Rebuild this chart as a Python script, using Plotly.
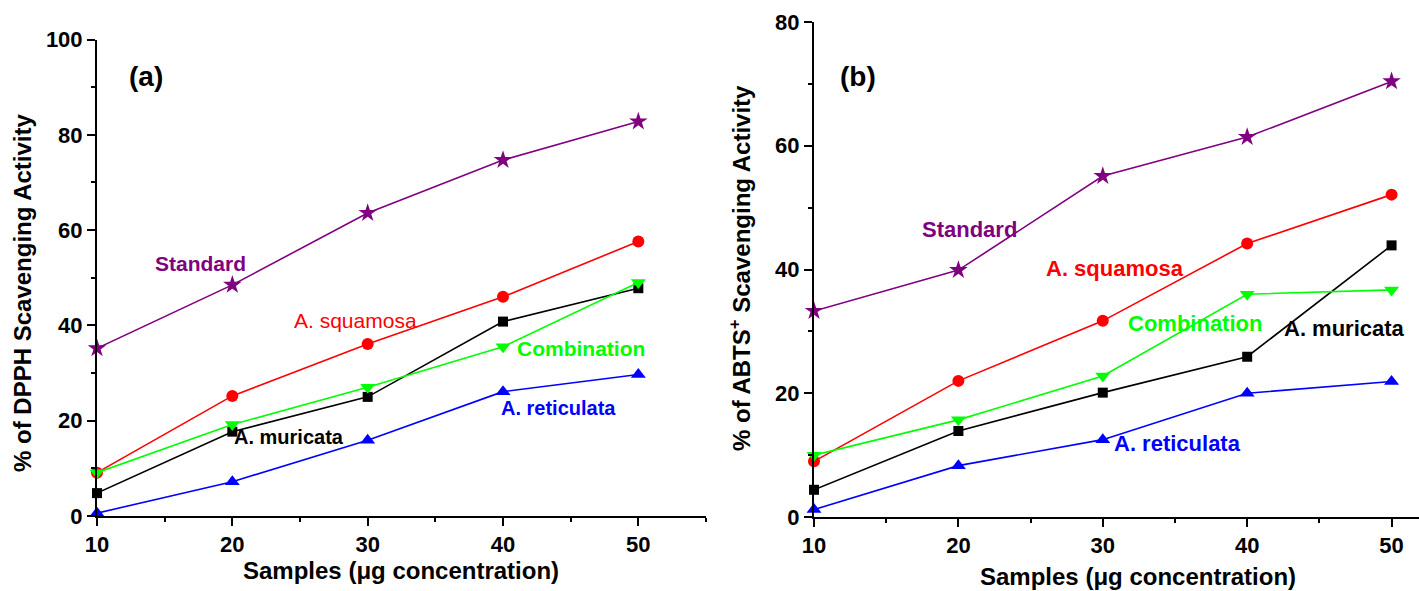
import plotly.graph_objects as go

W, H = 1419, 591

# ---- data ----
conc = [10, 20, 30, 40, 50]

# (a) DPPH
dpph_standard = [35.2, 48.5, 63.6, 74.7, 82.8]
dpph_squamosa = [9.1, 25.2, 36.1, 46.0, 57.6]
dpph_muricata = [4.8, 17.7, 25.0, 40.8, 47.8]
dpph_combination = [9.1, 19.2, 27.0, 35.5, 49.0]
dpph_reticulata = [0.6, 7.2, 15.9, 26.1, 29.7]

# (b) ABTS+
abts_standard = [33.3, 39.9, 55.1, 61.4, 70.4]
abts_squamosa = [9.0, 22.0, 31.7, 44.2, 52.1]
abts_muricata = [4.4, 13.9, 20.1, 25.9, 43.9]
abts_combination = [10.0, 15.7, 22.8, 36.0, 36.7]
abts_reticulata = [1.2, 8.3, 12.5, 20.0, 21.9]

x_tickvals = [10, 20, 30, 40, 50]
y1_tickvals = [0, 20, 40, 60, 80, 100]
y2_tickvals = [0, 20, 40, 60, 80]

FONT = "Liberation Sans, Arial, sans-serif"
PURPLE = "#800080"
RED = "#FF0000"
BLACK = "#000000"
GREEN = "#00FF00"
BLUE = "#0000FF"

def px(x):
    return x / W

def py(y):
    return 1 - y / H

fig = go.Figure()

series_style = [
    ("Standard", PURPLE, "star", 14),
    ("A. squamosa", RED, "circle", 12),
    ("A. muricata", BLACK, "square", 10),
    ("Combination", GREEN, "triangle-down", 13),
    ("A. reticulata", BLUE, "triangle-up", 13),
]

left_data = [dpph_standard, dpph_squamosa, dpph_muricata, dpph_combination, dpph_reticulata]
right_data = [abts_standard, abts_squamosa, abts_muricata, abts_combination, abts_reticulata]

for (name, color, sym, size), ys in zip(series_style, left_data):
    fig.add_trace(go.Scatter(
        x=conc, y=ys, mode="lines+markers", name=name, showlegend=False,
        line=dict(color=color, width=1.6),
        marker=dict(symbol=sym, size=size, color=color, line=dict(width=0)),
        xaxis="x", yaxis="y", cliponaxis=False,
    ))

for (name, color, sym, size), ys in zip(series_style, right_data):
    fig.add_trace(go.Scatter(
        x=conc, y=ys, mode="lines+markers", name=name, showlegend=False,
        line=dict(color=color, width=1.6),
        marker=dict(symbol=sym, size=size, color=color, line=dict(width=0)),
        xaxis="x2", yaxis="y2", cliponaxis=False,
    ))

tickfont = dict(family=FONT, size=22, color="black", weight="bold")

def xax(domain, rng, anchor):
    return dict(
        domain=domain, range=rng, anchor=anchor, automargin=False,
        showline=True, linecolor="black", linewidth=2,
        ticks="outside", ticklen=8, tickwidth=2, tickcolor="black",
        tickvals=x_tickvals, tickfont=tickfont,
        showgrid=False, zeroline=False,
        minor=dict(dtick=5, tick0=0, ticks="outside", ticklen=4, tickwidth=2, tickcolor="black", showgrid=False),
    )

def yax(domain, rng, anchor, tickvals):
    return dict(
        domain=domain, range=rng, anchor=anchor, automargin=False,
        showline=True, linecolor="black", linewidth=2,
        ticks="outside", ticklen=8, tickwidth=2, tickcolor="black",
        tickvals=tickvals, tickfont=tickfont,
        showgrid=False, zeroline=False,
        minor=dict(dtick=10, tick0=0, ticks="outside", ticklen=4, tickwidth=2, tickcolor="black", showgrid=False),
    )

fig.update_layout(
    width=W, height=H,
    margin=dict(l=0, r=0, t=0, b=0, autoexpand=False),
    paper_bgcolor="white", plot_bgcolor="white",
    xaxis=xax([px(97), px(706)], [10, 55], "y"),
    yaxis=yax([py(516), py(39.5)], [0, 100], "x", y1_tickvals),
    xaxis2=xax([px(814), 1.0], [10, 51.9], "y2"),
    yaxis2=yax([py(517), py(22)], [0, 80], "x2", y2_tickvals),
)

def ann(text, x, y, size, color, bold=True, xanchor="left", angle=0):
    fig.add_annotation(
        text=text, x=px(x), y=py(y), xref="paper", yref="paper",
        xanchor=xanchor, yanchor="middle", showarrow=False, textangle=angle,
        font=dict(family=FONT, size=size, color=color, weight="bold" if bold else "normal"),
    )

# panel (a) labels
ann("(a)", 127, 77, 28, BLACK)
ann("Standard", 153, 263, 21, PURPLE)
ann("A. squamosa", 292, 320, 21, RED, bold=False)
ann("A. muricata", 232, 437, 20, BLACK)
ann("Combination", 515, 348, 21, GREEN)
ann("A. reticulata", 499, 408, 20, BLUE)

# panel (b) labels
ann("(b)", 838, 76, 28, BLACK)
ann("Standard", 920, 229, 22, PURPLE)
ann("A. squamosa", 1044, 268, 22, RED)
ann("Combination", 1126, 323, 22, GREEN)
ann("A. muricata", 1282, 328, 22, BLACK)
ann("A. reticulata", 1112, 443, 22, BLUE)

# axis titles
ann("% of DPPH Scavenging Activity", 22, 293, 24, BLACK, xanchor="center", angle=-90)
ann("% of ABTS<sup>+</sup> Scavenging Activity", 740, 268, 24, BLACK, xanchor="center", angle=-90)
ann("Samples (\u03bcg concentration)", 401, 570, 24, BLACK, xanchor="center")
ann("Samples (\u03bcg concentration)", 1138, 576, 24, BLACK, xanchor="center")

fig.write_html("out.html")
